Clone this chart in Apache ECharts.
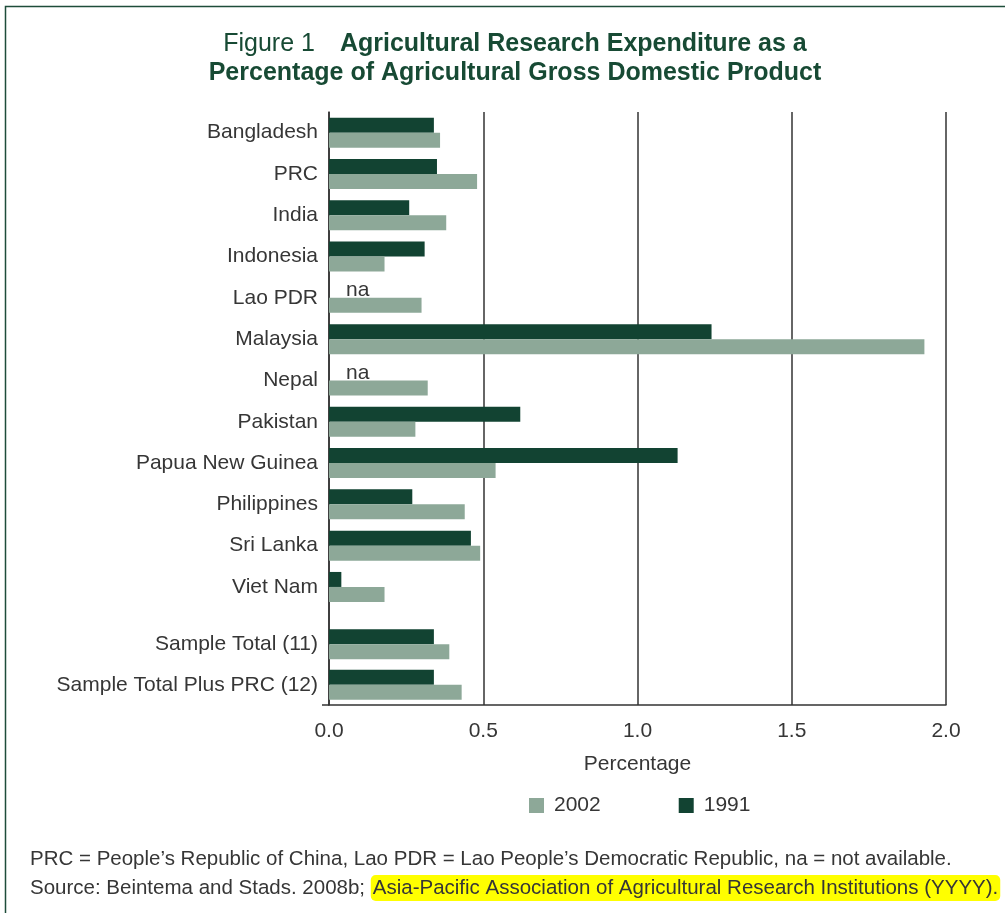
<!DOCTYPE html>
<html>
<head>
<meta charset="utf-8">
<script src="https://cdn.jsdelivr.net/npm/echarts@6/dist/echarts.min.js"></script>
<style>
html,body{margin:0;padding:0;background:#fff;}
#chart{width:1005px;height:913px;}
</style>
</head>
<body>
<div id="chart"></div>
<script>
// ---- data ----
const countries = ['Bangladesh','PRC','India','Indonesia','Lao PDR','Malaysia','Nepal','Pakistan','Papua New Guinea','Philippines','Sri Lanka','Viet Nam'];
const countries1991 = [0.34, 0.35, 0.26, 0.31, null, 1.24, null, 0.62, 1.13, 0.27, 0.46, 0.04];
const countries2002 = [0.36, 0.48, 0.38, 0.18, 0.30, 1.93, 0.32, 0.28, 0.54, 0.44, 0.49, 0.18];
const totals = ['Sample Total (11)','Sample Total Plus PRC (12)'];
const totals1991 = [0.34, 0.34];
const totals2002 = [0.39, 0.43];
const xTicks = [0, 0.5, 1.0, 1.5, 2.0];
const seriesNames = ['1991','2002'];

const DARK = '#124332', LIGHT = '#8da898', TXT = '#363636', TITLE = '#174a34';
const FONT = 'Liberation Sans, Arial, sans-serif';
const FS = 21;

const chart = echarts.init(document.getElementById('chart'), null, {renderer:'canvas'});

function naData(arr){
  return arr.map(v => v === null ? {value:0, label:{show:true, formatter:'na', position:'right', distance:17, color:TXT, fontSize:FS, fontFamily:FONT}} : v);
}

const L = 329, R = 1005-946;
const top1 = 112, band = 41.3;
const h1 = countries.length * band;
const top2 = 624, h2 = 81, bottomAll = 705;

const hiddenX = (gi) => ({gridIndex:gi, type:'value', min:xTicks[0], max:xTicks[xTicks.length-1], show:false});
const catY = (gi, data) => ({gridIndex:gi, type:'category', inverse:true, data:data,
  axisLine:{show:false}, axisTick:{show:false},
  axisLabel:{color:TXT, fontSize:FS, fontFamily:FONT, margin:11}});

function barSeries(name, xi, data, color){
  return {name:name, type:'bar', xAxisIndex:xi, yAxisIndex:xi, data:data, barWidth:15, barGap:'0%',
    itemStyle:{color:color}, emphasis:{disabled:true}, animation:false};
}

chart.setOption({
  animation:false,
  textStyle:{fontFamily:FONT},
  title:{
    left:510, top:25, textAlign:'center',
    text:'{r|Figure 1}     {b|Agricultural Research Expenditure as a}\n{b|Percentage of Agricultural Gross Domestic Product}',
    textStyle:{fontWeight:'normal', rich:{
      r:{fontSize:25, color:TITLE, fontWeight:'normal', fontFamily:FONT, lineHeight:29},
      b:{fontSize:25, color:TITLE, fontWeight:'bold', fontFamily:FONT, lineHeight:29}
    }}
  },
  legend:{
    data:['2002','1991'], left:529, top:795, padding:0, itemWidth:15, itemHeight:15, itemGap:78,
    icon:'rect', selectedMode:false,
    textStyle:{color:TXT, fontSize:FS, fontFamily:FONT, padding:[0,0,0,5]}
  },
  grid:[
    {left:L, right:R, top:top1, height:bottomAll-top1},
    {left:L, right:R, top:top1, height:h1},
    {left:L, right:R, top:top2, height:h2}
  ],
  xAxis:[
    {gridIndex:0, type:'value', min:xTicks[0], max:xTicks[xTicks.length-1], interval:0.5,
      axisLine:{show:true, lineStyle:{color:'#333', width:1.5}}, axisTick:{show:false},
      splitLine:{show:true, lineStyle:{color:'#333', width:1.5}},
      axisLabel:{color:TXT, fontSize:FS, fontFamily:FONT, margin:16, formatter:v=>v.toFixed(1)},
      name:'Percentage', nameLocation:'middle', nameGap:49,
      nameTextStyle:{color:TXT, fontSize:FS, fontFamily:FONT}},
    hiddenX(1), hiddenX(2)
  ],
  yAxis:[
    {gridIndex:0, type:'value', min:0, max:1, axisLabel:{show:false}, splitLine:{show:false},
      axisTick:{show:false}, axisLine:{show:true, lineStyle:{color:'#333', width:1.5}}},
    catY(1, countries), catY(2, totals)
  ],
  series:[
    barSeries(seriesNames[0], 1, naData(countries1991), DARK),
    barSeries(seriesNames[1], 1, countries2002, LIGHT),
    barSeries(seriesNames[0], 2, totals1991, DARK),
    barSeries(seriesNames[1], 2, totals2002, LIGHT)
  ],
  graphic:[
    {type:'line', shape:{x1:322, y1:bottomAll, x2:L, y2:bottomAll}, style:{stroke:'#333', lineWidth:1.5}},
    {type:'polyline', shape:{points:[[5.5,913],[5.5,6.5],[1005,6.5]]}, style:{stroke:'#1e4d3a', lineWidth:1.5, fill:null}},
    {type:'text', left:30, top:849, style:{text:'PRC = People\u2019s Republic of China, Lao PDR = Lao People\u2019s Democratic Republic, na = not available.', fontSize:20.5, fontFamily:FONT, fill:TXT}},
    {type:'text', left:30, top:875, style:{
      text:'{n|Source: Beintema and Stads. 2008b; }{h|Asia-Pacific Association of Agricultural Research Institutions (YYYY).}',
      fill:TXT,
      rich:{
        n:{fontSize:20.5, fontFamily:FONT, fill:TXT},
        h:{fontSize:20.5, fontFamily:FONT, fill:TXT, backgroundColor:'#ffff00', borderRadius:5, padding:[3,2,2,2]}
      }}}
  ]
});
</script>
</body>
</html>
